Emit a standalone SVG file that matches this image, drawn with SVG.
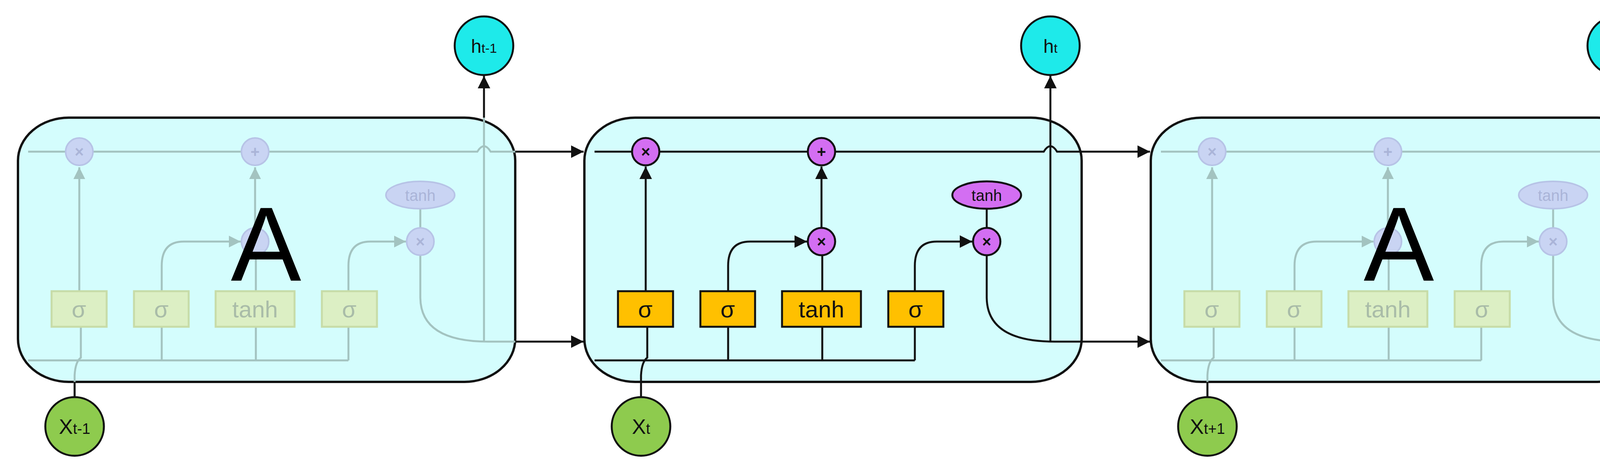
<svg xmlns="http://www.w3.org/2000/svg" xmlns:xlink="http://www.w3.org/1999/xlink" width="4432" height="1205" viewBox="0 0 4432 1205">
<style>
text{font-family:"Liberation Sans",Arial,sans-serif;text-anchor:middle}
.cell{fill:#d4fdfd;stroke:#111;stroke-width:6}
.ln{fill:none;stroke:#111;stroke-width:5}
.fl{fill:none;stroke:#a3c3c0;stroke-width:5}
.box{fill:#ffc000;stroke:#111;stroke-width:5}
.fbox{fill:#dcefc4;stroke:#c7dca8;stroke-width:5}
.op{fill:#d36ef2;stroke:#111;stroke-width:5}
.fop{fill:#c9d4f3;stroke:#b7c3e6;stroke-width:4}
.ht{fill:#1eeaea;stroke:#111;stroke-width:5}
.xt{fill:#8ecb4e;stroke:#111;stroke-width:5}
.lbl{font-size:60px;fill:#111}
.flbl{font-size:60px;fill:#a9bca8}
.sym{font-size:40px;font-weight:bold;fill:#111}
.fsym{font-size:40px;font-weight:bold;fill:#aab4d8}
</style>
<defs>
<marker id="ah" viewBox="0 0 10 10" refX="10" refY="5" markerWidth="32" markerHeight="32" markerUnits="userSpaceOnUse" orient="auto"><path d="M0,0 L10,5 L0,10 z" fill="#111"/></marker>
<marker id="fah" viewBox="0 0 10 10" refX="10" refY="5" markerWidth="30" markerHeight="30" markerUnits="userSpaceOnUse" orient="auto"><path d="M0,0 L10,5 L0,10 z" fill="#a3c3c0"/></marker>
<g id="fadedCell">
<rect class="cell" x="46" y="301" width="1273" height="676" rx="130" ry="110"/>
<path class="fl" d="M72 388 H1222 Q1239 360 1256 388 H1319"/>
<path class="fl" d="M72 922 H892 M414 836 V922 M655 836 V922 M892 836 V922"/>
<path class="fl" d="M203 745 V428" marker-end="url(#fah)"/>
<path class="fl" d="M655 745 V583 M653 583 V428" marker-end="url(#fah)"/>
<path class="fl" d="M414 745 V680 Q414 618 470 618 H616" marker-end="url(#fah)"/>
<path class="fl" d="M892 745 V680 Q892 618 948 618 H1039" marker-end="url(#fah)"/>
<path class="fl" d="M1076 534 V583 M1076 653 V760 Q1076 874 1250 874 H1319 M1239 874 V301"/>
<path class="fl" d="M207 836 V915 Q193 925 191 960 V1016"/>
<rect class="fbox" x="132" y="745" width="141" height="91"/>
<rect class="fbox" x="343" y="745" width="140" height="91"/>
<rect class="fbox" x="552" y="745" width="202" height="91"/>
<rect class="fbox" x="824" y="745" width="141" height="91"/>
<text class="flbl" x="202" y="812">σ</text><text class="flbl" x="413" y="812">σ</text><text class="flbl" x="653" y="812">tanh</text><text class="flbl" x="894" y="812">σ</text>
<circle class="fop" cx="203" cy="388" r="35"/><text class="fsym" x="203" y="402">×</text>
<circle class="fop" cx="653" cy="388" r="35"/><text class="fsym" x="653" y="402">+</text>
<circle class="fop" cx="653" cy="618" r="35"/>
<circle class="fop" cx="1076" cy="618" r="35"/><text class="fsym" x="1076" y="632">×</text>
<ellipse class="fop" cx="1076" cy="499" rx="88" ry="35"/><text x="1076" y="514" style="font-size:40px;fill:#aab4d8">tanh</text>
<text x="681" y="718" style="font-size:270px;fill:#000">A</text>
</g>
</defs>

<g id="cellA1"><use xlink:href="#fadedCell"/></g>
<g id="cellA2"><use xlink:href="#fadedCell" transform="translate(2900 0)"/></g>

<g id="cellMain" transform="translate(1450 0)">
<rect class="cell" x="46" y="301" width="1273" height="676" rx="130" ry="110"/>
</g>

<g id="connectors">
<path class="ln" d="M1319 388 H1494" marker-end="url(#ah)"/>
<path class="ln" d="M1319 874 H1494" marker-end="url(#ah)"/>
<path class="ln" d="M2769 388 H2944" marker-end="url(#ah)"/>
<path class="ln" d="M2769 874 H2944" marker-end="url(#ah)"/>
<path class="ln" d="M4219 388 H4396" marker-end="url(#ah)"/>
<path class="ln" d="M4219 874 H4396" marker-end="url(#ah)"/>
<path class="ln" d="M1239 301 V194" marker-end="url(#ah)"/>
<path class="ln" d="M4139 301 V194" marker-end="url(#ah)"/>
<path class="ln" d="M191 1016 V977"/>
<path class="ln" d="M3091 1016 V977"/>
<g transform="translate(1450 0)">
<path class="ln" d="M72 388 H1222 Q1239 360 1256 388 H1319"/>
<path class="ln" d="M72 922 H892 M414 836 V922 M655 836 V922 M892 836 V922"/>
<path class="ln" d="M203 745 V426" marker-end="url(#ah)"/>
<path class="ln" d="M655 745 V583 M653 583 V426" marker-end="url(#ah)"/>
<path class="ln" d="M414 745 V680 Q414 618 470 618 H616" marker-end="url(#ah)"/>
<path class="ln" d="M892 745 V680 Q892 618 948 618 H1039" marker-end="url(#ah)"/>
<path class="ln" d="M1076 534 V583 M1076 653 V760 Q1076 874 1250 874 H1319"/>
<path class="ln" d="M1239 874 V194" marker-end="url(#ah)"/>
<path class="ln" d="M207 836 V915 Q193 925 191 960 V1016"/>
</g>
</g>

<g id="mainParts" transform="translate(1450 0)">
<g id="gateF"><rect class="box" x="132" y="745" width="141" height="91"/><text class="lbl" x="202" y="812">σ</text></g>
<g id="gateI"><rect class="box" x="343" y="745" width="140" height="91"/><text class="lbl" x="413" y="812">σ</text></g>
<g id="gateC"><rect class="box" x="552" y="745" width="202" height="91"/><text class="lbl" x="653" y="812">tanh</text></g>
<g id="gateO"><rect class="box" x="824" y="745" width="141" height="91"/><text class="lbl" x="894" y="812">σ</text></g>
<g id="opMul1"><circle class="op" cx="203" cy="388" r="35"/><text class="sym" x="203" y="402">×</text></g>
<g id="opAdd"><circle class="op" cx="653" cy="388" r="35"/><text class="sym" x="653" y="402">+</text></g>
<g id="opMul2"><circle class="op" cx="653" cy="618" r="35"/><text class="sym" x="653" y="632">×</text></g>
<g id="opMul3"><circle class="op" cx="1076" cy="618" r="35"/><text class="sym" x="1076" y="632">×</text></g>
<g id="opTanh"><ellipse class="op" cx="1076" cy="499" rx="88" ry="35"/><text x="1076" y="514" style="font-size:40px;fill:#111">tanh</text></g>
</g>

<g id="h1"><circle class="ht" cx="1239" cy="117" r="75"/><text x="1239" y="135" style="font-size:48px;fill:#111">h<tspan style="font-size:34px">t-1</tspan></text></g>
<g id="h2"><circle class="ht" cx="2689" cy="117" r="75"/><text x="2689" y="135" style="font-size:48px;fill:#111">h<tspan style="font-size:34px">t</tspan></text></g>
<g id="h3"><circle class="ht" cx="4139" cy="117" r="75"/><text x="4139" y="135" style="font-size:48px;fill:#111">h<tspan style="font-size:34px">t+1</tspan></text></g>
<g id="x1"><circle class="xt" cx="191" cy="1091" r="75"/><text x="191" y="1110" style="font-size:54px;fill:#111">X<tspan style="font-size:38px">t-1</tspan></text></g>
<g id="x2"><circle class="xt" cx="1641" cy="1091" r="75"/><text x="1641" y="1110" style="font-size:54px;fill:#111">X<tspan style="font-size:38px">t</tspan></text></g>
<g id="x3"><circle class="xt" cx="3091" cy="1091" r="75"/><text x="3091" y="1110" style="font-size:54px;fill:#111">X<tspan style="font-size:38px">t+1</tspan></text></g>
</svg>
